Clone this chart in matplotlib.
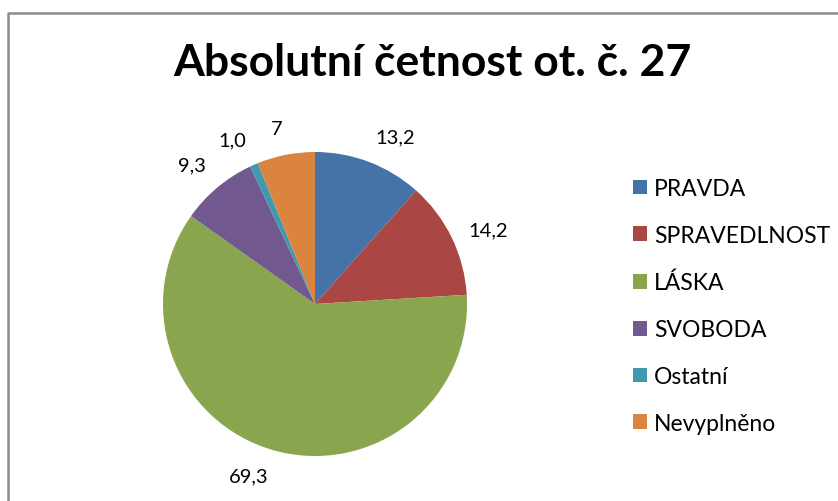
import numpy as np
import matplotlib.pyplot as plt
from matplotlib.lines import Line2D

plt.rcParams['font.family'] = ['Lato', 'DejaVu Sans']

# Data
categories = ['PRAVDA', 'SPRAVEDLNOST', 'LÁSKA', 'SVOBODA', 'Ostatní', 'Nevyplněno']
values = [13.2, 14.2, 69.3, 9.3, 1.0, 7]
value_labels = ['13,2', '14,2', '69,3', '9,3', '1,0', '7']
colors = ['#4572A7', '#AA4643', '#89A54E', '#71588F', '#4198AF', '#DB843D']

W, H = 838, 502
fig = plt.figure(figsize=(W / 100, H / 100), dpi=100)

# pie geometry in pixels
cx, cy, r = 315, 305, 152
ax = fig.add_axes([(cx - r) / W, (H - cy - r) / H, 2 * r / W, 2 * r / H])

wedges, _ = ax.pie(values, colors=colors, startangle=90, counterclock=False,
                   wedgeprops=dict(linewidth=0))

# data labels outside the end of each slice, Excel-like alignment
for w, lab in zip(wedges, value_labels):
    ang = np.deg2rad((w.theta1 + w.theta2) / 2)
    c, s = np.cos(ang), np.sin(ang)
    ha = 'left' if c > 0.05 else ('right' if c < -0.05 else 'center')
    va = 'bottom' if s > 0.5 else ('top' if s < -0.5 else 'center')
    ax.text(1.12 * c, 1.12 * s, lab, ha=ha, va=va, fontsize=14.5, color='#000000')

ax.set_xlim(-1, 1)
ax.set_ylim(-1, 1)
ax.set_aspect('equal')
ax.axis('off')

# title
fig.text(432 / W, 1 - 63 / H, 'Absolutní četnost ot. č. 27', ha='center', va='center',
         fontsize=32, fontweight='bold')

# legend
fig.legend(wedges, categories, loc='center left', bbox_to_anchor=(633 / W, 1 - 307 / H),
           frameon=False, fontsize=16.5, labelspacing=1.13, handlelength=0.62,
           handleheight=0.62, handletextpad=0.3, borderpad=0, borderaxespad=0)

# chart border (left and top visible)
fig.add_artist(Line2D([8 / W, 8 / W, 1], [0, 1 - 14 / H, 1 - 14 / H],
                      transform=fig.transFigure, color='#8c8c8c', linewidth=1.8))

fig.savefig('out.png', dpi=100, facecolor='white')
